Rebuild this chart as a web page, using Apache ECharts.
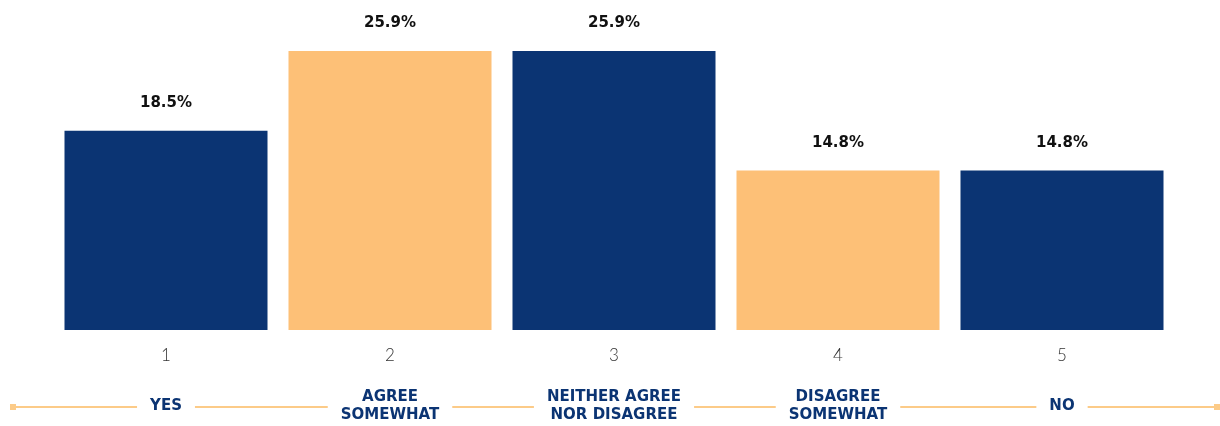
<!DOCTYPE html>
<html>
<head>
<meta charset="utf-8">
<script src="https://cdn.jsdelivr.net/npm/echarts@6/dist/echarts.min.js"></script>
<style>
  html, body { margin: 0; padding: 0; background: #fff; }
  #chart { width: 1220px; height: 426px; }
</style>
</head>
<body>
<div id="chart"></div>
<script>
// data
var categories = ['1', '2', '3', '4', '5'];
var answerLabels = ['YES', 'AGREE\nSOMEWHAT', 'NEITHER AGREE\nNOR DISAGREE', 'DISAGREE\nSOMEWHAT', 'NO'];
var shares = [18.5, 25.9, 25.9, 14.8, 14.8];
var barColors = ['#0B3473', '#FDC077', '#0B3473', '#FDC077', '#0B3473'];

var navy = '#0B3473';
var lineColor = '#FCCB88';

var chart = echarts.init(document.getElementById('chart'));
var option = {
  animation: false,
  grid: { left: 54, right: 46, top: 51, bottom: 95 },
  xAxis: [
    {
      type: 'category',
      data: categories,
      axisLine: { show: false },
      axisTick: { show: false },
      axisLabel: {
        margin: 17,
        color: '#333',
        fontSize: 17,
        fontWeight: 300,
        fontFamily: 'Lato'
      }
    },
    {
      type: 'category',
      data: answerLabels,
      position: 'bottom',
      z: 5,
      axisLine: { show: false },
      axisTick: { show: false },
      axisLabel: {
        margin: 76,
        verticalAlign: 'middle',
        color: navy,
        fontSize: 15,
        fontWeight: 'bold',
        fontFamily: 'DejaVu Sans',
        lineHeight: 18,
        backgroundColor: '#fff',
        padding: [2, 13]
      }
    }
  ],
  yAxis: {
    type: 'value',
    min: 0,
    max: 25.9,
    show: false
  },
  series: [{
    type: 'bar',
    barWidth: 203,
    data: shares.map(function (v, i) {
      return { value: v, itemStyle: { color: barColors[i] } };
    }),
    label: {
      show: true,
      position: 'top',
      distance: 20,
      color: '#111',
      fontSize: 15,
      fontWeight: 'bold',
      fontFamily: 'DejaVu Sans',
      formatter: function (p) { return p.value.toFixed(1) + '%'; }
    }
  }],
  graphic: [
    { type: 'line', z: 1, shape: { x1: 13, y1: 407, x2: 1217, y2: 407 },
      style: { stroke: lineColor, lineWidth: 2 } },
    { type: 'rect', z: 1, shape: { x: 10, y: 404, width: 6, height: 6 },
      style: { fill: lineColor } },
    { type: 'rect', z: 1, shape: { x: 1214, y: 404, width: 6, height: 6 },
      style: { fill: lineColor } }
  ]
};
chart.setOption(option);
</script>
</body>
</html>
